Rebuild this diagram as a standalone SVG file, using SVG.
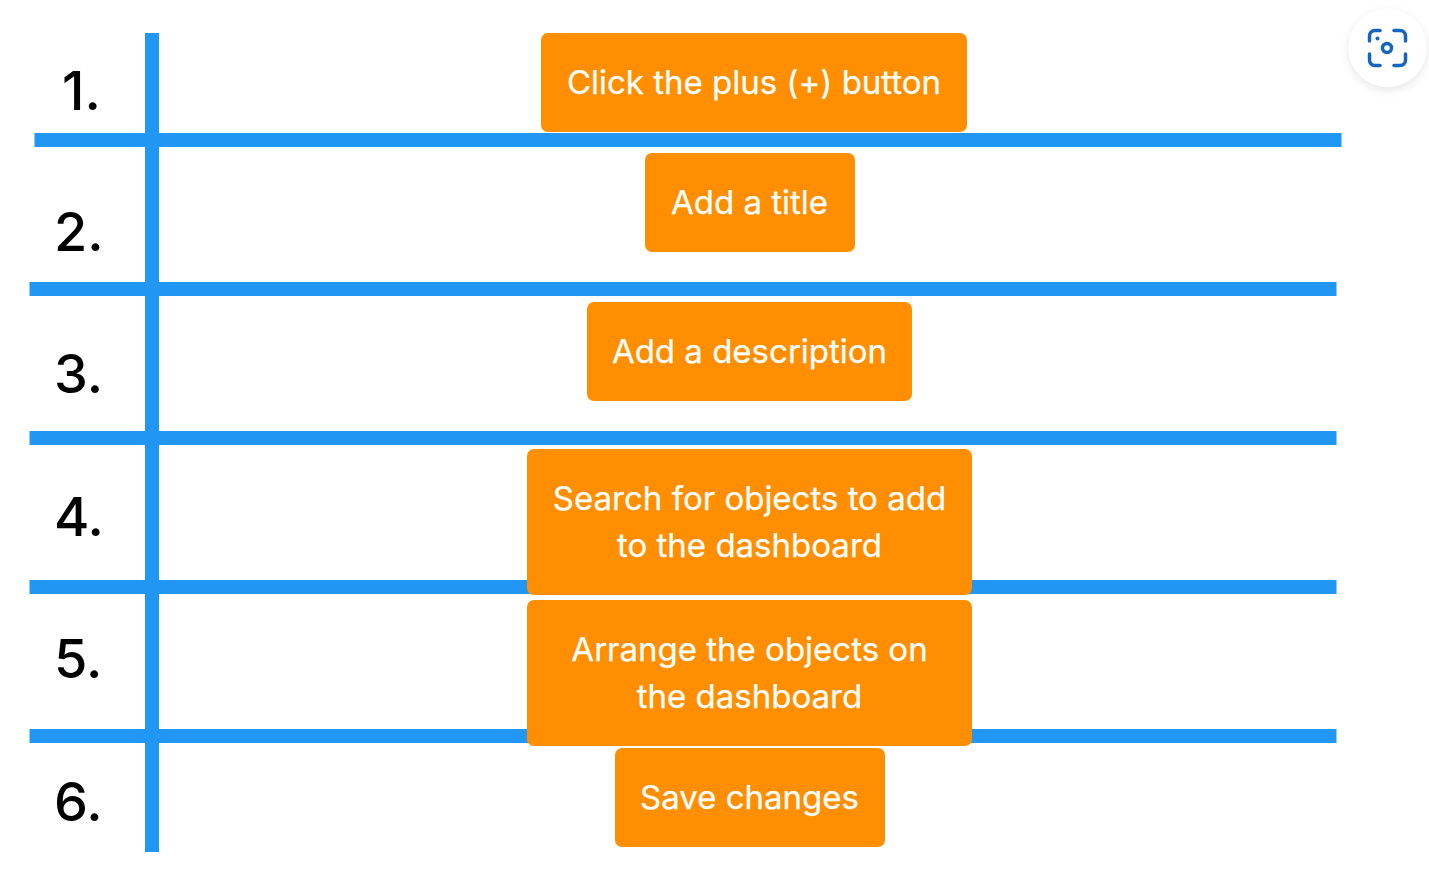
<svg xmlns="http://www.w3.org/2000/svg" width="1429" height="887" viewBox="0 0 1429 887">
<defs>
<filter id="sh" x="-30%" y="-30%" width="160%" height="160%"><feDropShadow dx="0" dy="3" stdDeviation="5" flood-color="#000" flood-opacity="0.1"/></filter>
</defs>
<style>
.bar{fill:#2196f3}
.box{fill:#ff8f00}
.t{font-family:"Inter","Noto Sans",sans-serif;font-size:33px;fill:#fff;text-anchor:middle;stroke:#fff;stroke-width:0.25px}
.n{font-family:"Inter","Noto Sans",sans-serif;font-size:54px;font-weight:500;fill:#000}
.ic{fill:none;stroke:#1565c0;stroke-width:3.500;stroke-linecap:round}
</style>
<rect width="1429" height="887" fill="#fff"/>
<g id="connectors">
<rect class="bar" x="145" y="33" width="14" height="819"/>
<rect class="bar" x="34.500" y="133" width="1307" height="14"/>
<rect class="bar" x="29.500" y="282" width="1307" height="14"/>
<rect class="bar" x="29.500" y="431" width="1307" height="14"/>
<rect class="bar" x="29.500" y="580" width="1307" height="14"/>
<rect class="bar" x="29.500" y="729" width="1307" height="14"/>
</g>
<g id="num1"><text class="n" x="62" y="110">1.</text></g>
<g id="num2"><text class="n" x="54" y="251">2.</text></g>
<g id="num3"><text class="n" x="54" y="393">3.</text></g>
<g id="num4"><text class="n" x="54" y="536">4.</text></g>
<g id="num5"><text class="n" x="54" y="678">5.</text></g>
<g id="num6"><text class="n" x="54" y="821">6.</text></g>
<g id="step1"><rect class="box" x="541" y="33" width="426" height="99" rx="7"/><text class="t" x="754" y="94">Click the plus (+) button</text></g>
<g id="step2"><rect class="box" x="645" y="153" width="210" height="99" rx="7"/><text class="t" x="749.500" y="214">Add a title</text></g>
<g id="step3"><rect class="box" x="587" y="302" width="325" height="99" rx="7"/><text class="t" x="749.500" y="363">Add a description</text></g>
<g id="step4"><rect class="box" x="527" y="449" width="445" height="146" rx="7"/><text class="t" x="749.500" y="510">Search for objects to add</text><text class="t" x="749.500" y="557">to the dashboard</text></g>
<g id="step5"><rect class="box" x="527" y="600" width="445" height="146" rx="7"/><text class="t" x="749.500" y="661">Arrange the objects on</text><text class="t" x="749.500" y="708">the dashboard</text></g>
<g id="step6"><rect class="box" x="615" y="748" width="270" height="99" rx="7"/><text class="t" x="749.500" y="809">Save changes</text></g>
<g id="camera">
<circle cx="1387.500" cy="48" r="39" fill="#fff" filter="url(#sh)"/>
<path class="ic" d="M1369.500 41v-5a5.500 5.500 0 0 1 5.500-5.500h5M1394 30.500h6a5.500 5.500 0 0 1 5.500 5.500v5M1405.500 54v6a5.500 5.500 0 0 1-5.500 5.500h-6M1380 65.500h-5a5.500 5.500 0 0 1-5.500-5.500v-6"/>
<circle class="ic" cx="1387" cy="48" r="4.500"/>
<circle cx="1377.500" cy="38.500" r="2" fill="#1565c0"/>
</g>
</svg>
